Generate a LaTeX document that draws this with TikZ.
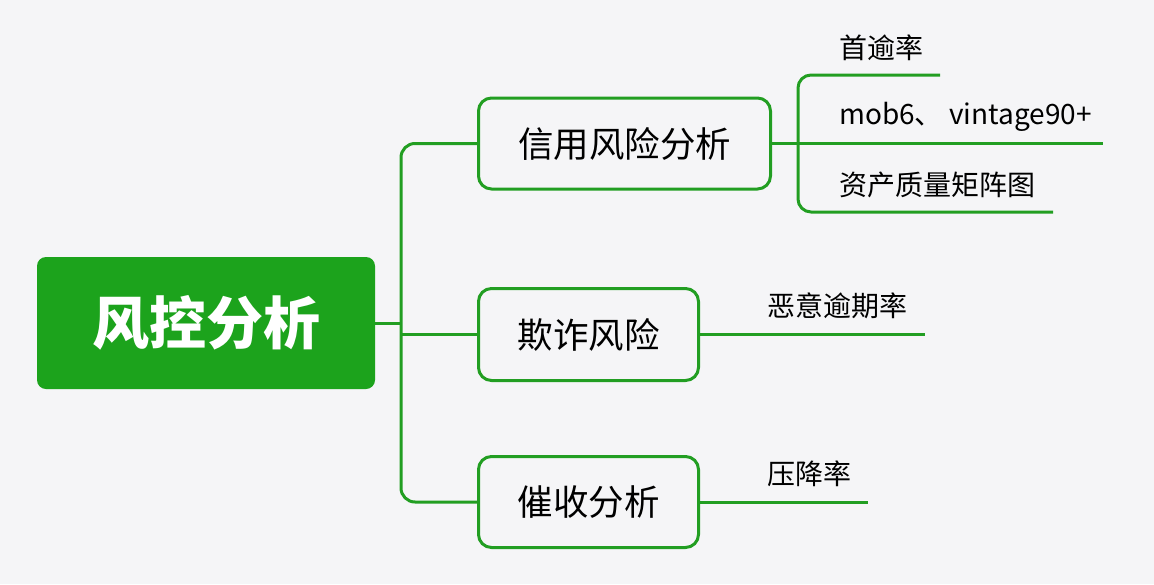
\documentclass[tikz,border=0pt]{standalone}
\usepackage{fontspec}
\setmainfont{Noto Sans CJK SC}
\newfontfamily\cjk{Noto Sans CJK SC}
\definecolor{bg}{RGB}{245,245,247}
\definecolor{gfill}{RGB}{28,163,28}
\definecolor{gline}{RGB}{34,158,34}
\tikzset{
  conn/.style={draw=gline, line width=3pt},
  rootbox/.style={fill=gfill, rounded corners=9pt, minimum width=338pt, minimum height=132pt, inner sep=0pt, text=white, font=\cjk\bfseries\fontsize{57pt}{60pt}\selectfont},
  midbox/.style={draw=gline, line width=3pt, fill=bg, rounded corners=13pt, inner sep=0pt, font=\cjk\fontsize{35.5pt}{38pt}\selectfont},
  leaf/.style={anchor=west, inner sep=0pt, font=\cjk\fontsize{28pt}{30pt}\selectfont}
}
\begin{document}
\begin{tikzpicture}[x=1pt,y=-1pt]
\useasboundingbox[fill=bg] (0,0) rectangle (1154,584);
% nodes
\node[rootbox] (root) at (206,323) {风控分析};
\node[midbox, minimum width=292pt, minimum height=91pt] (b1) at (624.5,143.5) {信用风险分析};
\node[midbox, minimum width=220pt, minimum height=92pt] (b2) at (588.5,334.5) {欺诈风险};
\node[midbox, minimum width=220pt, minimum height=91pt] (b3) at (588.5,502) {催收分析};
% coordinates
\coordinate (sp) at (401,323);
\coordinate (br) at (798,143.5);
\coordinate (e1) at (940,75);
\coordinate (e2) at (1103,143.5);
\coordinate (e3) at (1053,212);
\coordinate (e4) at (925,334.5);
\coordinate (e5) at (868,502);
% connectors level 1
\draw[conn] (root.east) -- (sp);
\draw[conn, rounded corners=14pt] (b1.west) -| (sp) |- (b3.west);
\draw[conn] (sp |- b2.west) -- (b2.west);
% connectors level 2
\draw[conn] (b1.east) -- (br);
\draw[conn, rounded corners=13pt] (e1) -| (br) |- (e3);
\draw[conn] (br) -- (e2);
\draw[conn] (b2.east) -- (e4);
\draw[conn] (b3.east) -- (e5);
% leaf texts
\node[leaf] (t1) at (839,48) {首逾率};
\node[leaf] (t2) at (839,117) {mob6、 vintage90+};
\node[leaf] (t3) at (839,185) {资产质量矩阵图};
\node[leaf] (t4) at (767,306) {恶意逾期率};
\node[leaf] (t5) at (767,474) {压降率};
\end{tikzpicture}
\end{document}
